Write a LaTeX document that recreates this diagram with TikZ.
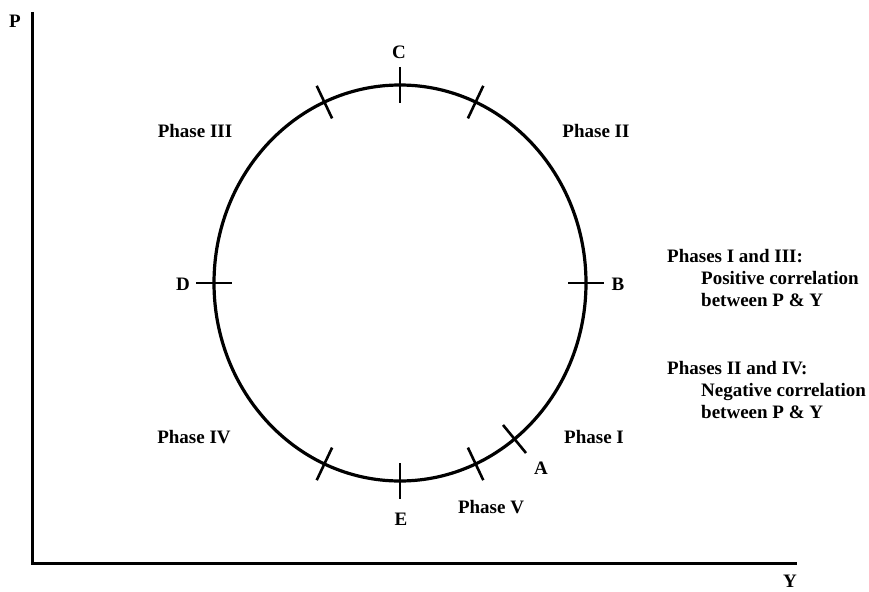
\documentclass[tikz,border=0pt]{standalone}
\usepackage{fontspec}
\setmainfont{Liberation Serif}
\begin{document}
\begin{tikzpicture}[x=1pt,y=-1pt,
  lbl/.style={font=\fontsize{19}{22}\selectfont\bfseries, inner sep=0pt},
  axis/.style={line width=3pt},
  curve/.style={line width=3.2pt},
  tick/.style={line width=2.6pt}]
\useasboundingbox (0,0) rectangle (869,591);
% axes
\coordinate (o) at (32,563);
\coordinate (ptop) at (32,12);
\coordinate (yend) at (797,563);
\draw[axis] (ptop) -- (o) -- (yend);
\node[lbl] (P) at (15,21) {P};
\node[lbl] (Y) at (790,581) {Y};
% ellipse
\draw[curve] (400,283) ellipse [x radius=186, y radius=198];
% ticks
\draw[tick] (400,67) -- (400,103);
\draw[tick] (568,283) -- (604,283);
\draw[tick] (196,283) -- (232,283);
\draw[tick] (400,463) -- (400,499);
\draw[tick] (483.3,85.8) -- (467.9,118.4);
\draw[tick] (316.7,85.8) -- (332.1,118.4);
\draw[tick] (316.7,480.2) -- (332.1,447.6);
\draw[tick] (483.3,480.2) -- (467.9,447.6);
\draw[tick] (526,453) -- (503,425);
% labels
\node[lbl] (C) at (399,52) {C};
\node[lbl] (B) at (618,284) {B};
\node[lbl] (D) at (183,284) {D};
\node[lbl] (E) at (401,519) {E};
\node[lbl] (A) at (541,468) {A};
\node[lbl] (ph3) at (195,131) {Phase III};
\node[lbl] (ph2) at (596,131) {Phase II};
\node[lbl] (ph4) at (194,437) {Phase IV};
\node[lbl] (ph1) at (594,437) {Phase I};
\node[lbl] (ph5) at (491,507) {Phase V};
% legend
\node[lbl, anchor=base west] (l1) at (667,262) {Phases I and III:};
\node[lbl, anchor=base west] (l2) at (701,284) {Positive correlation};
\node[lbl, anchor=base west] (l3) at (701,306) {between P \& Y};
\node[lbl, anchor=base west] (l4) at (667,374) {Phases II and IV:};
\node[lbl, anchor=base west] (l5) at (701,396) {Negative correlation};
\node[lbl, anchor=base west] (l6) at (701,418) {between P \& Y};
\end{tikzpicture}
\end{document}
